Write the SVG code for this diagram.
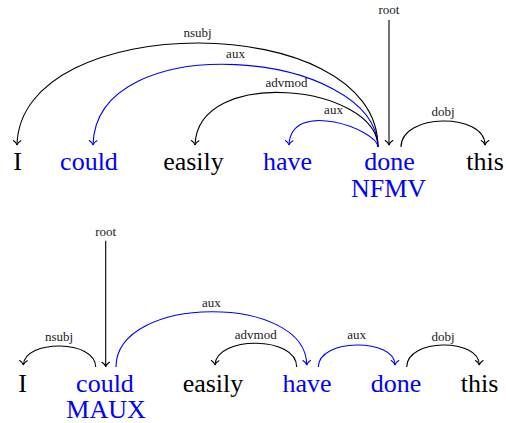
<svg xmlns="http://www.w3.org/2000/svg" width="506" height="423" viewBox="0 0 506 423">
<defs>
<style>
.w{font-size:26px;text-anchor:middle}
.k{fill:#000}
.b{fill:#0000ff}
.lab{font-size:13px;text-anchor:middle;fill:#1a1a1a}
.e{fill:none;stroke-width:1.1}
.ek{stroke:#000;marker-end:url(#ak)}
.eb{stroke:#0000ff;marker-end:url(#ab)}
</style>
<marker id="ak" markerUnits="userSpaceOnUse" viewBox="-6 -6 8 12" markerWidth="8" markerHeight="12" refX="0" refY="0" orient="auto" overflow="visible">
<path d="M-4.4,-3.8 C-3,-1.4 -1.2,-0.3 0,0 C-1.2,0.3 -3,1.4 -4.4,3.8" fill="none" stroke="#000" stroke-width="1.1" stroke-linecap="round"/>
</marker>
<marker id="ab" markerUnits="userSpaceOnUse" viewBox="-6 -6 8 12" markerWidth="8" markerHeight="12" refX="0" refY="0" orient="auto" overflow="visible">
<path d="M-4.4,-3.8 C-3,-1.4 -1.2,-0.3 0,0 C-1.2,0.3 -3,1.4 -4.4,3.8" fill="none" stroke="#0000ff" stroke-width="1.1" stroke-linecap="round"/>
</marker>
</defs>
<rect width="506" height="423" fill="#fff"/>
<g font-family="Liberation Serif, DejaVu Serif, Times New Roman, serif">

<!-- Top sentence -->
<g id="t-I"><text class="w k" x="17.5" y="170">I</text></g>
<g id="t-could"><text class="w b" x="89" y="170">could</text></g>
<g id="t-easily"><text class="w k" x="193.5" y="170">easily</text></g>
<g id="t-have"><text class="w b" x="287.5" y="170">have</text></g>
<g id="t-done"><text class="w b" x="389.5" y="170">done</text><text class="w b" x="388.5" y="196.5">NFMV</text></g>
<g id="t-this"><text class="w k" x="485" y="170">this</text></g>

<g id="t-connectors">
<path class="e ek" d="M389,20 L389,145"/>
<text class="lab" x="389" y="14">root</text>
<path class="e ek" d="M378,147 C378,8.7 20,8.7 17,145"/>
<text class="lab" x="197.5" y="37">nsubj</text>
<path class="e eb" d="M378,147 C376,50 96,25 93,145"/>
<text class="lab" x="235.5" y="58">aux</text>
<path class="e ek" d="M378,147 C377,85 198,65 195,145"/>
<text class="lab" x="286.5" y="87">advmod</text>
<path class="e eb" d="M378,147 C378,130 291,98 289,145"/>
<text class="lab" x="333.5" y="114">aux</text>
<path class="e ek" d="M401,147 C401,112.7 485,112.7 485,145"/>
<text class="lab" x="443" y="116">dobj</text>
</g>

<!-- Bottom sentence -->
<g id="b-I"><text class="w k" x="22.5" y="391.5">I</text></g>
<g id="b-could"><text class="w b" x="105" y="391.5">could</text><text class="w b" x="106" y="418.2">MAUX</text></g>
<g id="b-easily"><text class="w k" x="213" y="391.5">easily</text></g>
<g id="b-have"><text class="w b" x="307" y="391.5">have</text></g>
<g id="b-done"><text class="w b" x="396" y="391.5">done</text></g>
<g id="b-this"><text class="w k" x="479.5" y="391.5">this</text></g>

<g id="b-connectors">
<path class="e ek" d="M105.7,240.7 L105.7,366.7"/>
<text class="lab" x="105.7" y="235.7">root</text>
<path class="e ek" d="M95.7,367 C95.7,339.3 24.5,339.3 23.3,365"/>
<text class="lab" x="59" y="341">nsubj</text>
<path class="e eb" d="M116,367 C116,293.6 306.7,293.6 306.7,365"/>
<text class="lab" x="211.3" y="307">aux</text>
<path class="e ek" d="M296.7,367 C296.7,335.7 216,335.7 215,365"/>
<text class="lab" x="255.8" y="339">advmod</text>
<path class="e eb" d="M318.3,367 C318.3,338 395,338 395,365"/>
<text class="lab" x="356.7" y="339">aux</text>
<path class="e ek" d="M406.7,367 C406.7,338 479.3,338 479.3,365"/>
<text class="lab" x="443" y="340.5">dobj</text>
</g>
</g>
</svg>
